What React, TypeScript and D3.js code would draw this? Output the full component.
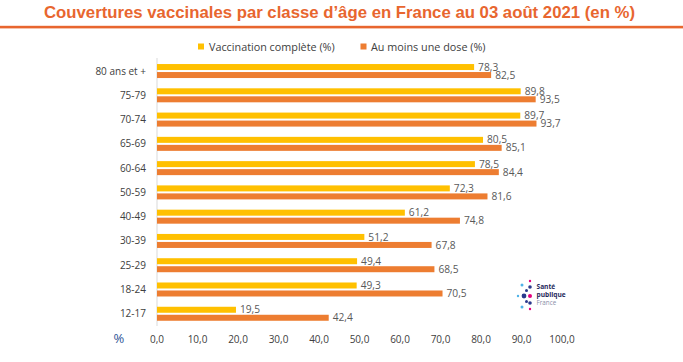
import React from "react";
import * as d3 from "d3";

const categories = ["80 ans et +", "75-79", "70-74", "65-69", "60-64", "50-59", "40-49", "30-39", "25-29", "18-24", "12-17"];
const vaccinationComplete = [78.3, 89.8, 89.7, 80.5, 78.5, 72.3, 61.2, 51.2, 49.4, 49.3, 19.5];
const auMoinsUneDose = [82.5, 93.5, 93.7, 85.1, 84.4, 81.6, 74.8, 67.8, 68.5, 70.5, 42.4];
const seriesNames = ["Vaccination complète (%)", "Au moins une dose (%)"];
const seriesColors = ["#FFC000", "#ED7D31"];
const xTicks = [0, 10, 20, 30, 40, 50, 60, 70, 80, 90, 100];
const title = "Couvertures vaccinales par classe d’âge en France au 03 août 2021 (en %)";

const W = 683;
const H = 362;
const FONT = "'Open Sans', 'DejaVu Sans', sans-serif";

const fmt = (v: number) => v.toFixed(1).replace(".", ",");

// Logo dots (decoration)
const logoDots = [
  { x: 530, y: 281, r: 1.2, c: "#E6007E" },
  { x: 530, y: 287, r: 1.8, c: "#2B3A8C" },
  { x: 522, y: 285, r: 1.5, c: "#4FB3E8" },
  { x: 526.5, y: 290.5, r: 1.5, c: "#2B3A8C" },
  { x: 518, y: 296, r: 1.2, c: "#4FB3E8" },
  { x: 524, y: 296, r: 2.4, c: "#2B3A8C" },
  { x: 530, y: 296, r: 2.0, c: "#E6007E" },
  { x: 526.5, y: 301.5, r: 1.5, c: "#2B3A8C" },
  { x: 522, y: 307, r: 1.5, c: "#4FB3E8" },
  { x: 530, y: 303, r: 1.8, c: "#2B3A8C" },
  { x: 530, y: 309, r: 1.2, c: "#E6007E" },
];

export default function App() {
  const x = d3.scaleLinear().domain([0, 100]).range([157, 562]);
  const y = d3
    .scaleBand<string>()
    .domain(categories)
    .range([58.9, 325.9])
    .paddingInner(0.423)
    .paddingOuter(0.2115);
  const inner = d3
    .scaleBand<number>()
    .domain([0, 1])
    .range([0, y.bandwidth()])
    .paddingInner(0.25);
  const series = [vaccinationComplete, auMoinsUneDose];

  return (
    <svg
      width={W}
      height={H}
      style={{ position: "absolute", left: 0, top: 0, background: "#fff" }}
    >
      <rect x={0} y={0} width={W} height={H} fill="#fff" />
      <text
        x={44}
        y={18}
        textLength={591}
        lengthAdjust="spacingAndGlyphs"
        fontFamily="'Liberation Sans', Arial, sans-serif"
        fontWeight="bold"
        fontSize={16.5}
        fill="#E8662F"
      >
        {title}
      </text>
      <rect x={0} y={25.8} width={W} height={2.6} fill="#E8662F" />

      {/* legend */}
      <g fontFamily={FONT} fontSize={10.8} fill="#404040">
        <rect x={198} y={43.5} width={6} height={6} fill={seriesColors[0]} />
        <text x={209} y={50.5}>{seriesNames[0]}</text>
        <rect x={360.5} y={43.5} width={6} height={6} fill={seriesColors[1]} />
        <text x={371} y={50.5}>{seriesNames[1]}</text>
      </g>

      {/* axis line */}
      <line x1={x(0)} x2={x(0)} y1={58} y2={326} stroke="#D9D9D9" strokeWidth={1} />

      {categories.map((cat, i) => (
        <g key={cat}>
          <text
            x={146}
            y={(y(cat) as number) + y.bandwidth() / 2}
            dy="0.35em"
            textAnchor="end"
            fontFamily={FONT}
            fontSize={10}
            fill="#404040"
          >
            {cat}
          </text>
          {series.map((vals, s) => {
            const by = (y(cat) as number) + (inner(s) as number);
            return (
              <g key={s}>
                <rect
                  x={x(0)}
                  y={by}
                  width={x(vals[i]) - x(0)}
                  height={inner.bandwidth()}
                  fill={seriesColors[s]}
                />
                <text
                  x={x(vals[i]) + 4}
                  y={by + inner.bandwidth() / 2}
                  dy="0.35em"
                  fontFamily={FONT}
                  fontSize={10.2}
                  fill="#595959"
                >
                  {fmt(vals[i])}
                </text>
              </g>
            );
          })}
        </g>
      ))}

      {/* x tick labels */}
      <g fontFamily={FONT} fontSize={10} fill="#404040">
        {xTicks.map((t) => (
          <text key={t} x={x(t)} y={343} textAnchor="middle">
            {fmt(t)}
          </text>
        ))}
      </g>
      <text x={113.5} y={343} fontFamily={FONT} fontSize={13} fill="#2F5597">
        %
      </text>

      {/* logo */}
      <g>
        {logoDots.map((d, i) => (
          <circle key={i} cx={d.x} cy={d.y} r={d.r} fill={d.c} />
        ))}
        <text x={536.5} y={289} fontFamily={FONT} fontWeight="bold" fontSize={6.6} fill="#1F2A5C">
          Santé
        </text>
        <text x={536.5} y={296.5} fontFamily={FONT} fontWeight="bold" fontSize={6.6} fill="#1F2A5C">
          publique
        </text>
        <text x={536.5} y={304.5} fontFamily={FONT} fontSize={6.3} fill="#8A8FA8">
          France
        </text>
      </g>
    </svg>
  );
}
